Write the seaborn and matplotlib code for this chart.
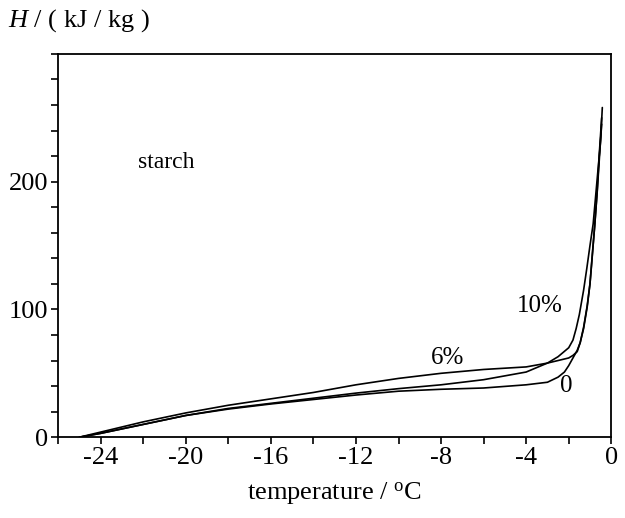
import matplotlib
matplotlib.use("Agg")
import matplotlib.pyplot as plt
import seaborn as sns
import pandas as pd
from matplotlib.ticker import MultipleLocator

# data
t_0 = [-25, -24, -22, -20, -18, -16, -14, -12, -10, -8, -6, -4, -3, -2.5, -2.2, -2, -1.8, -1.6, -1.46, -1.3, -1.13, -1.0, -0.9, -0.78, -0.66, -0.52, -0.45]
h_0 = [0, 3, 10, 17, 22, 26, 29.5, 33, 36, 37.5, 38.5, 41, 43, 47, 51, 56, 62, 68, 74, 86, 103, 120, 140, 165, 192, 228, 245]

t_6 = [-25, -24, -22, -20, -18, -16, -14, -12, -10, -8, -6, -4, -3, -2.5, -2, -1.8, -1.6, -1.46, -1.3, -1.13, -1.0, -0.9, -0.78, -0.66, -0.55, -0.45]
h_6 = [0, 4, 12, 19, 25, 30, 35, 41, 46, 50, 53, 55, 58, 60, 62, 64, 67, 74, 85, 102, 120, 141, 165, 193, 225, 250]

t_10 = [-25, -24, -22, -20, -18, -16, -14, -12, -10, -8, -6, -5, -4, -3, -2.5, -2, -1.8, -1.65, -1.5, -1.3, -1.15, -1.0, -0.85, -0.7, -0.5, -0.42]
h_10 = [0, 3, 10, 17, 22.5, 26.5, 30.5, 34.5, 38, 41, 45, 48, 51, 58, 63, 70, 76, 85, 96, 115, 132, 150, 167, 195, 232, 258]

series = ["0", "6%", "10%"]
x_ticks = [-24, -20, -16, -12, -8, -4, 0]
y_ticks = [0, 100, 200]

df = pd.concat([
    pd.DataFrame({"T": t_0, "H": h_0, "s": "0"}),
    pd.DataFrame({"T": t_6, "H": h_6, "s": "6%"}),
    pd.DataFrame({"T": t_10, "H": h_10, "s": "10%"}),
], ignore_index=True)

sns.set_style("ticks")
plt.rcParams["font.family"] = ["Liberation Serif", "DejaVu Serif"]
plt.rcParams["mathtext.fontset"] = "custom"
plt.rcParams["mathtext.rm"] = "Liberation Serif"
plt.rcParams["mathtext.it"] = "Liberation Serif:italic"
plt.rcParams["axes.unicode_minus"] = False
plt.rcParams["text.color"] = "black"
plt.rcParams["axes.labelcolor"] = "black"
plt.rcParams["xtick.color"] = "black"
plt.rcParams["ytick.color"] = "black"

fig = plt.figure(figsize=(6.25, 5.18), dpi=100)
ax = fig.add_axes([0.093, 0.156, 0.885, 0.74])

sns.lineplot(data=df, x="T", y="H", hue="s", units="s", estimator=None, sort=False,
             palette={k: "black" for k in series}, linewidth=1.2, legend=False, ax=ax)
for ln in ax.get_lines():
    ln.set_solid_joinstyle("round")

ax.set_xlim(-26, 0)
ax.set_ylim(0, 300)
ax.set_xticks(x_ticks)
ax.set_yticks(y_ticks)
ax.xaxis.set_minor_locator(MultipleLocator(2))
ax.yaxis.set_minor_locator(MultipleLocator(20))
ax.tick_params(which="both", direction="out", length=5, width=1.2, color="black",
               labelsize=19, pad=2, labelcolor="black")
for sp in ax.spines.values():
    sp.set_visible(True)
    sp.set_linewidth(1.3)
    sp.set_color("black")

ax.set_xlabel(r"temperature / $^{\mathrm{o}}$C", fontsize=19, labelpad=8, color="black")
ax.set_ylabel("")

fig.text(0.013, 0.96, r"$H$ / ( kJ / kg )", fontsize=19, ha="left", va="center", color="black")

ax.text(-20.9, 215, "starch", fontsize=17, ha="center", va="center", color="black")
ax.text(-3.35, 103, "10%", fontsize=18, ha="center", va="center", color="black")
ax.text(-7.7, 62, "6%", fontsize=18, ha="center", va="center", color="black")
ax.text(-2.1, 40, "0", fontsize=18, ha="center", va="center", color="black")

fig.savefig("out.png", dpi=100)
